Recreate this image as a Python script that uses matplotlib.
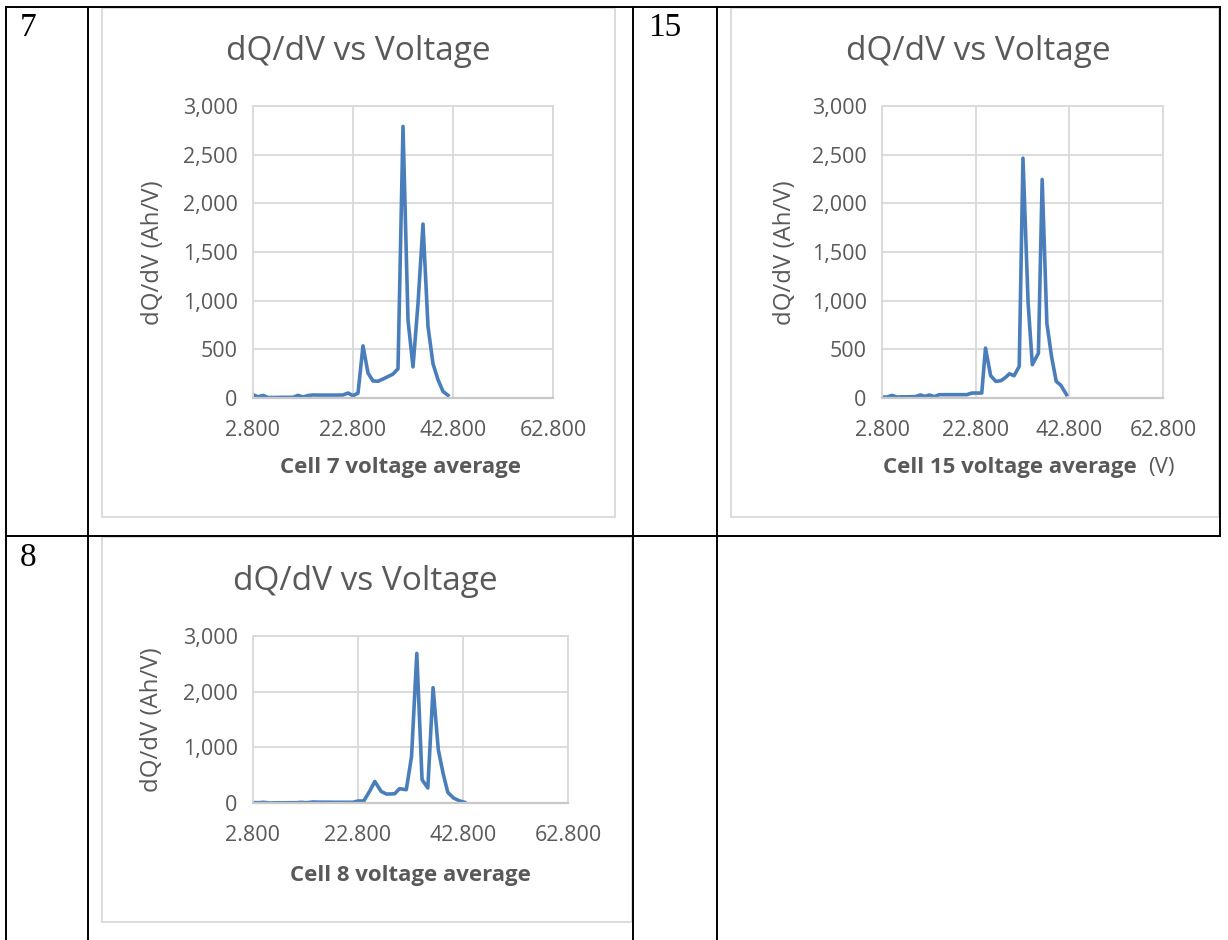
import matplotlib
matplotlib.use("Agg")
import matplotlib.pyplot as plt
from matplotlib.patches import Rectangle

plt.rcParams["font.family"] = ["Open Sans", "DejaVu Sans"]

# cell 7
volts_7 = [2.8, 3.8, 4.8, 5.8, 6.8, 7.8, 8.8, 9.8, 10.8, 11.8, 12.8, 13.8, 14.8, 15.8,
           16.8, 17.8, 18.8, 19.8, 20.8, 21.8, 22.8, 23.8, 24.8, 25.8, 26.8, 27.8, 28.8,
           29.8, 30.8, 31.8, 32.8, 33.8, 34.8, 35.8, 36.8, 37.8, 38.8, 39.8, 40.8, 41.8]
dqdv_7 = [34, 12, 27, 5, 5, 6, 7, 7, 7, 27, 10, 25, 31, 30,
          30, 30, 30, 30, 31, 51, 24, 50, 536, 256, 175, 172, 195,
          220, 246, 300, 2790, 800, 320, 970, 1787, 735, 352, 188, 68, 27]

# cell 15
volts_15 = [2.8, 3.9, 4.9, 6.0, 7.0, 8.0, 9.0, 9.9, 11.0, 12.0, 12.9, 14.0, 15.0, 16.0,
            17.0, 18.0, 19.0, 20.0, 20.9, 22.0, 23.0, 24.1, 24.9, 26.0, 27.1, 28.2,
            29.2, 30.0, 31.0, 32.1, 32.9, 34.0, 34.9, 36.2, 37.0, 38.0, 39.0, 40.0,
            41.0, 42.2]
dqdv_15 = [10, 10, 27, 10, 12, 12, 13, 14, 31, 17, 31, 14, 34, 34,
           34, 34, 34, 34, 34, 51, 51, 51, 513, 229, 171, 178,
           212, 249, 229, 325, 2464, 974, 342, 461, 2245, 769, 427, 171,
           130, 34]

# cell 8
volts_8 = [2.8, 3.8, 4.8, 6.0, 7.0, 8.0, 9.0, 10.0, 11.1, 12.0, 13.0, 14.2, 15.2, 16.2,
           17.2, 18.2, 19.2, 20.2, 21.8, 22.8, 23.9, 25.0, 26.0, 27.2, 28.2, 29.2,
           29.8, 30.7, 32.0, 33.0, 34.0, 35.0, 36.1, 37.1, 38.1, 39.0, 39.9, 41.0,
           42.1, 43.1]
dqdv_8 = [8, 5, 12, 0, 3, 4, 4, 5, 5, 12, 5, 18, 15, 14,
          14, 13, 13, 13, 12, 36, 36, 209, 388, 209, 161, 163,
          167, 257, 239, 836, 2687, 418, 269, 2072, 955, 537, 191, 90,
          40, 12]

x_ticks = [2.8, 22.8, 42.8, 62.8]
x_tick_labels = ["2.800", "22.800", "42.800", "62.800"]
y_ticks_fine = [0, 500, 1000, 1500, 2000, 2500, 3000]
y_ticks_coarse = [0, 1000, 2000, 3000]

line_color = "#4a7ebb"
text_gray = "#595959"
grid_gray = "#d9d9d9"

W, H = 1228, 940
fig = plt.figure(figsize=(W / 100, H / 100), dpi=100)

# background axes in pixel units for the table and the text
bg = fig.add_axes([0, 0, 1, 1])
bg.set_xlim(0, W)
bg.set_ylim(H, 0)
bg.axis("off")


def px_axes(left, top, right, bottom):
    return fig.add_axes([left / W, 1 - bottom / H, (right - left) / W, (bottom - top) / H])


def draw_chart(ax, volts, dqdv, y_ticks):
    ax.plot(volts, dqdv, color=line_color, linewidth=2.6, solid_joinstyle="round")
    ax.set_xlim(x_ticks[0], x_ticks[-1])
    ax.set_xticks(x_ticks)
    ax.set_xticklabels(x_tick_labels)
    ax.set_ylim(0, 3000)
    ax.set_yticks(y_ticks)
    ax.set_yticklabels([f"{v:,}" for v in y_ticks])
    ax.grid(True, color=grid_gray, linewidth=1.3)
    ax.set_axisbelow(True)
    for side in ["top", "right", "left"]:
        ax.spines[side].set_color(grid_gray)
        ax.spines[side].set_linewidth(1.3)
    ax.spines["bottom"].set_color("#c8c8c8")
    ax.spines["bottom"].set_linewidth(1.6)
    ax.tick_params(axis="both", length=0, labelsize=15.5, labelcolor=text_gray)
    ax.tick_params(axis="y", pad=11)
    ax.tick_params(axis="x", pad=16)


# chart frames
for left, top, right, bottom in [(102, 8, 615, 517), (731, 8, 1219, 517), (102, 537, 632, 922)]:
    bg.add_patch(Rectangle((left, top), right - left, bottom - top, fill=False,
                           edgecolor=grid_gray, linewidth=1.3))

ax1 = px_axes(253, 106, 553, 398)
draw_chart(ax1, volts_7, dqdv_7, y_ticks_fine)
ax2 = px_axes(882, 106, 1163, 398)
draw_chart(ax2, volts_15, dqdv_15, y_ticks_fine)
ax3 = px_axes(253, 636, 568, 803)
draw_chart(ax3, volts_8, dqdv_8, y_ticks_coarse)

# titles
for x, y in [(358, 52), (978, 52), (365, 582)]:
    bg.text(x, y, "dQ/dV vs Voltage", fontsize=24, color=text_gray, ha="center", va="center")

# y labels
for x, y in [(153, 253), (785, 253), (152, 720)]:
    bg.text(x, y, "dQ/dV (Ah/V)", fontsize=17.3, color=text_gray, rotation=90,
            ha="center", va="center")

# x labels
bg.text(401, 468, "Cell 7 voltage average", fontsize=16, fontweight="bold",
        color=text_gray, ha="center", va="center")
bg.text(1137, 468, "Cell 15 voltage average", fontsize=16, fontweight="bold",
        color=text_gray, ha="right", va="center")
bg.text(1148, 468, "(V)", fontsize=16, color=text_gray, ha="left", va="center")
bg.text(410, 875, "Cell 8 voltage average", fontsize=16, fontweight="bold",
        color=text_gray, ha="center", va="center")

# table grid
table_kw = dict(color="black", linewidth=1.4, solid_capstyle="projecting")
bg.plot([6, 1220], [7, 7], **table_kw)
bg.plot([6, 1220], [536, 536], **table_kw)
for x in [6, 88, 633, 717]:
    bg.plot([x, x], [7, H + 5], **table_kw)
bg.plot([1220, 1220], [7, 536], **table_kw)

# row labels
for x, y, label in [(20, 12, "7"), (648, 12, "15"), (20, 542, "8")]:
    bg.text(x, y, label, fontsize=24, family="Liberation Serif", color="black",
            ha="left", va="top")

fig.savefig("out.png", dpi=100)
